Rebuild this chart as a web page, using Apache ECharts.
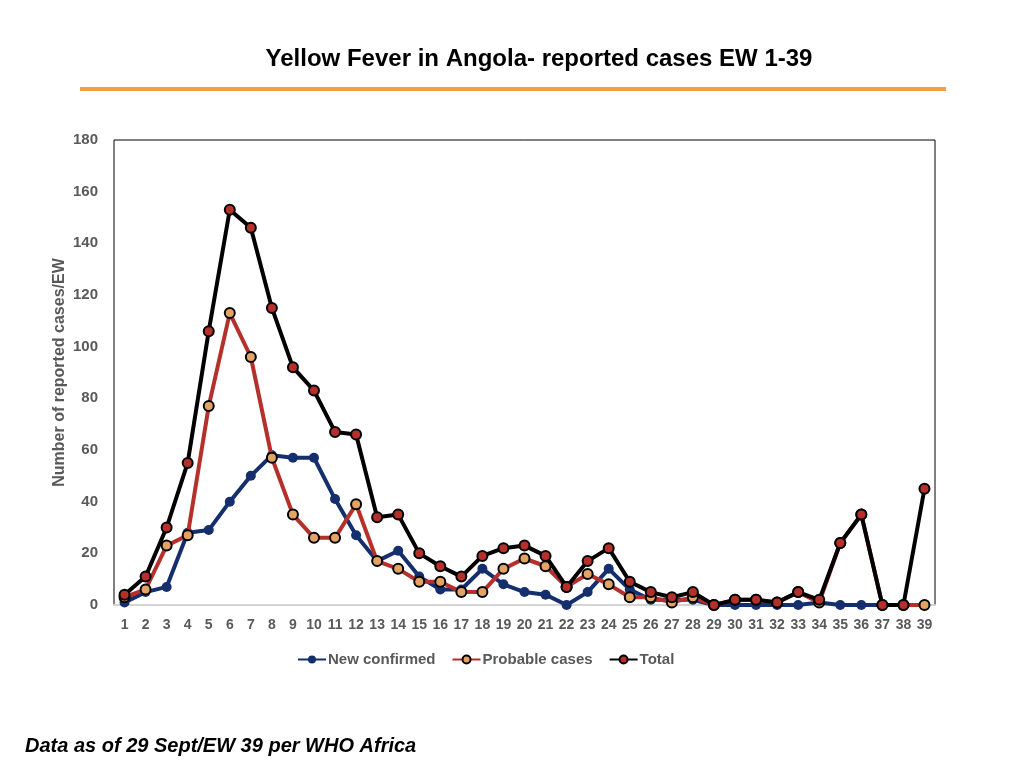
<!DOCTYPE html>
<html lang="en">

<head>
  <meta charset="UTF-8">
  <title>Yellow Fever in Angola</title>
  <script src="https://cdn.jsdelivr.net/npm/echarts@6/dist/echarts.min.js"></script>
  <style>
    html, body { margin: 0; padding: 0; background: #fff; }
  </style>
</head>

<body>
  <div id="chart" style="height: 768px; width: 1024px;"></div>
</body>
<script>
  // epidemiological weeks 1..39
  const weeks = ['1', '2', '3', '4', '5', '6', '7', '8', '9', '10', '11', '12', '13', '14', '15', '16', '17', '18', '19', '20',
    '21', '22', '23', '24', '25', '26', '27', '28', '29', '30', '31', '32', '33', '34', '35', '36', '37', '38', '39']

  const newConfirmed = [1, 5, 7, 28, 29, 40, 50, 58, 57, 57, 41, 27, 17, 21, 11, 6, 6, 14, 8, 5,
    4, 0, 5, 14, 6, 2, 2, 2, 0, 0, 0, 0, 0, 1, 0, 0, 0, 0, 0]
  const probableCases = [3, 6, 23, 27, 77, 113, 96, 57, 35, 26, 26, 39, 17, 14, 9, 9, 5, 5, 14, 18,
    15, 7, 12, 8, 3, 3, 1, 3, 0, 2, 2, 1, 5, 1, 24, 35, 0, 0, 0]
  const total = [4, 11, 30, 55, 106, 153, 146, 115, 92, 83, 67, 66, 34, 35, 20, 15, 11, 19, 22, 23,
    19, 7, 17, 22, 9, 5, 3, 5, 0, 2, 2, 1, 5, 2, 24, 35, 0, 0, 45]

  const yTicks = { min: 0, max: 180, interval: 20 }

  const grey = '#595959'
  const font = 'Liberation Sans, Arial, sans-serif'

  let myCharts = echarts.init(document.getElementById('chart'))

  let option = {
    backgroundColor: '#fff',
    animation: false,
    graphic: [
      {
        type: 'text',
        x: 539, y: 59,
        style: {
          text: 'Yellow Fever in Angola- reported cases EW 1-39',
          align: 'center', verticalAlign: 'middle',
          font: 'bold 24px ' + font, fill: '#000'
        }
      },
      {
        type: 'rect',
        shape: { x: 80, y: 87, width: 866, height: 4 },
        style: { fill: '#f0a03c' }
      },
      {
        type: 'text',
        x: 25, y: 746,
        style: {
          text: 'Data as of 29 Sept/EW 39 per WHO Africa',
          verticalAlign: 'middle',
          font: 'italic bold 20px ' + font, fill: '#000'
        }
      }
    ],
    legend: {
      top: 647,
      left: 292,
      itemWidth: 28,
      itemHeight: 10,
      itemGap: 16,
      textStyle: { fontFamily: font, fontSize: 15, fontWeight: 'bold', color: grey, padding: [0, 0, 0, -3] },
      data: ['New confirmed', 'Probable cases', 'Total']
    },
    grid: {
      left: 114,
      right: 89,
      top: 140,
      bottom: 163,
      show: true,
      borderColor: '#000',
      borderWidth: 1
    },
    xAxis: {
      type: 'category',
      data: weeks,
      boundaryGap: true,
      axisLine: { lineStyle: { color: '#d4d4d4', width: 2 } },
      axisTick: { show: false },
      axisLabel: {
        interval: 0,
        margin: 13,
        fontFamily: font, fontSize: 14, fontWeight: 'bold', color: grey
      }
    },
    yAxis: {
      type: 'value',
      min: yTicks.min,
      max: yTicks.max,
      interval: yTicks.interval,
      name: 'Number of reported cases/EW',
      nameLocation: 'middle',
      nameGap: 46,
      nameMoveOverlap: false,
      nameTextStyle: { fontFamily: font, fontSize: 16, fontWeight: 'bold', color: grey },
      axisLine: { show: false },
      axisTick: { show: false },
      splitLine: { show: false },
      axisLabel: {
        margin: 16,
        fontFamily: font, fontSize: 15, fontWeight: 'bold', color: grey
      }
    },
    series: [
      {
        name: 'New confirmed',
        type: 'line',
        data: newConfirmed,
        symbol: 'circle',
        symbolSize: 10,
        lineStyle: { color: '#142e6e', width: 4 },
        itemStyle: { color: '#142e6e' },
        z: 2
      },
      {
        name: 'Probable cases',
        type: 'line',
        data: probableCases,
        symbol: 'circle',
        symbolSize: 10,
        lineStyle: { color: '#b5302a', width: 4 },
        itemStyle: { color: '#e3a363', borderColor: '#000', borderWidth: 2 },
        z: 3
      },
      {
        name: 'Total',
        type: 'line',
        data: total,
        symbol: 'circle',
        symbolSize: 10,
        lineStyle: { color: '#000', width: 4 },
        itemStyle: { color: '#b5302a', borderColor: '#000', borderWidth: 2 },
        z: 4
      }
    ]
  }
  myCharts.setOption(option)
</script>

</html>
